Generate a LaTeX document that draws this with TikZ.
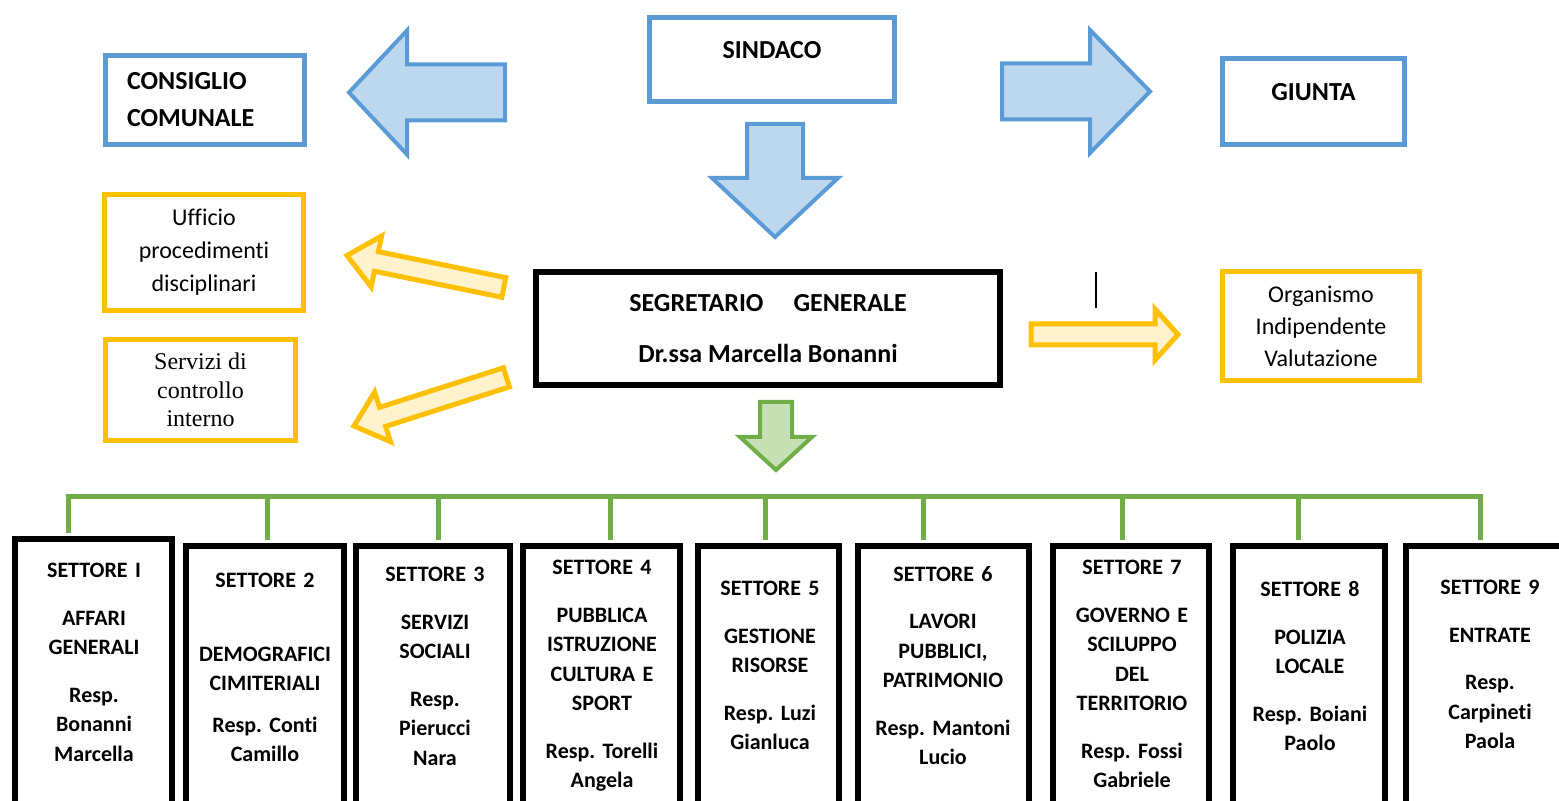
\documentclass[tikz,border=0pt]{standalone}
\usepackage{fontspec}
\setmainfont{Carlito}[Ligatures=NoCommon]
\newfontfamily\timesfont{Liberation Serif}
\usepackage{tikz}
\frenchspacing
\definecolor{offblue}{HTML}{5B9BD5}
\definecolor{lightblue}{HTML}{BDD7EE}
\definecolor{offgold}{HTML}{FFC000}
\definecolor{lightgold}{HTML}{FFF2CC}
\definecolor{offgreen}{HTML}{70AD47}
\definecolor{lightgreen}{HTML}{C5E0B4}
\tikzstyle{organo}=[rectangle, draw=offblue, line width=2.5pt, inner sep=0pt, font=\fontsize{13}{15}\selectfont\bfseries]
\tikzstyle{staff}=[rectangle, draw=offgold, line width=2.5pt, inner sep=0pt, align=center, font=\fontsize{12}{16.5}\selectfont]
\tikzstyle{segretario}=[rectangle, draw=black, line width=3pt, inner sep=0pt, align=center, font=\fontsize{13}{25.5}\selectfont\bfseries]
\tikzstyle{settore}=[rectangle, draw=black, line width=3pt, anchor=north, minimum height=145pt]
\tikzstyle{settext}=[anchor=north, inner sep=0pt, text width=84pt, align=center, font=\fontsize{11}{14.75}\selectfont\bfseries]
\tikzstyle{bluearrow}=[draw=offblue, fill=lightblue, line width=2pt]
\tikzstyle{goldarrow}=[draw=offgold, fill=lightgold, line width=2.5pt]
\tikzstyle{greenarrow}=[draw=offgreen, fill=lightgreen, line width=2pt]
\tikzstyle{bus}=[draw=offgreen, line width=2.5pt, shorten >=1.5pt]
% block arrow: style, tip, angle, length, shaft half width, head half width, head length
\newcommand{\blockarrow}[7]{%
  \begin{scope}[shift={(#2)}, rotate=#3]
    \path[#1] (0,0) -- (-#7,#6) -- (-#7,#5) -- (-#4,#5) -- (-#4,-#5) -- (-#7,-#5) -- (-#7,-#6) -- cycle;
  \end{scope}}

\begin{document}
\begin{tikzpicture}[x=0.5pt, y=-0.5pt]
                    \useasboundingbox (0,0) rectangle (1559,801);
                    \clip (0,0) rectangle (1559,801);
                    % organi di governo
                    \node[organo, minimum width=122.5pt, minimum height=42pt, text depth=9.5pt] (sindaco) at (772,59.5) {SINDACO};
                    \node[organo, minimum width=99.5pt, minimum height=44.5pt, inner xsep=10.75pt, text width=78pt, align=left, font=\fontsize{13}{18.5}\selectfont\bfseries] (consiglio) at (205,100) {CONSIGLIO\\COMUNALE};
                    \node[organo, minimum width=91pt, minimum height=43pt, text depth=9.5pt] (giunta) at (1313.5,101.5) {GIUNTA};
                    \blockarrow{bluearrow}{349,92.5}{180}{156}{28}{62}{58}
                    \blockarrow{bluearrow}{1150,91.5}{0}{148}{28}{61.5}{60}
                    \blockarrow{bluearrow}{775,237}{-90}{113}{28}{63}{59}
                    % segretario e uffici di staff
                    \node[segretario, minimum width=232pt, minimum height=56.5pt] (segretario) at (768,328.5) {SEGRETARIO\hspace{15pt}GENERALE\\Dr.ssa Marcella Bonanni};
                    \node[staff, minimum width=99.5pt, minimum height=58pt] (ufficio) at (204,252.5) {Ufficio\\procedimenti\\disciplinari};
                    \node[staff, minimum width=95pt, minimum height=50.5pt, font=\timesfont\fontsize{12}{14.3}\selectfont] (servizi) at (200.5,390) {Servizi di\\controllo\\interno};
                    \node[staff, minimum width=98.5pt, minimum height=54.5pt, font=\fontsize{12}{16}\selectfont] (oiv) at (1321,326) {Organismo\\Indipendente\\Valutazione};
                    \blockarrow{goldarrow}{347,255.5}{168.5}{160}{10}{26}{30}
                    \blockarrow{goldarrow}{354,426}{197.7}{160}{10}{26}{30}
                    \blockarrow{goldarrow}{1178,334.5}{0}{147}{10.5}{25.5}{23}
                    \draw[line width=0.75pt] (1096,272) -- (1096,308);
                    \blockarrow{greenarrow}{776,470}{-90}{68}{16}{36}{33}
                    % settori
                    \node[settore, minimum width=78.5pt] (s1) at (93.5,536) {};
                    \node[settore, minimum width=79pt]   (s2) at (265,543) {};
                    \node[settore, minimum width=77pt]   (s3) at (433,543) {};
                    \node[settore, minimum width=78.5pt] (s4) at (601.5,543) {};
                    \node[settore, minimum width=70.5pt] (s5) at (768.5,543) {};
                    \node[settore, minimum width=85.5pt] (s6) at (943.5,543) {};
                    \node[settore, minimum width=78pt]   (s7) at (1131,543) {};
                    \node[settore, minimum width=76pt]   (s8) at (1309,543) {};
                    \node[settore, minimum width=84pt]   (s9) at (1490,543) {};
                    \node[settext] (t1) at (94,563)   {SETTORE I\\[9pt]AFFARI\\GENERALI\\[9pt]Resp.\\Bonanni\\Marcella};
                    \node[settext] (t2) at (265,573)  {SETTORE 2\\[22pt]DEMOGRAFICI\\CIMITERIALI\\[6pt]Resp. Conti\\Camillo};
                    \node[settext] (t3) at (435,567)  {SETTORE 3\\[9pt]SERVIZI\\SOCIALI\\[9pt]Resp.\\Pierucci\\Nara};
                    \node[settext] (t4) at (602,560)  {SETTORE 4\\[9pt]PUBBLICA\\ISTRUZIONE\\CULTURA E\\SPORT\\[9pt]Resp. Torelli\\Angela};
                    \node[settext] (t5) at (770,581)  {SETTORE 5\\[9pt]GESTIONE\\RISORSE\\[9pt]Resp. Luzi\\Gianluca};
                    \node[settext] (t6) at (943,566)  {SETTORE 6\\[9pt]LAVORI\\PUBBLICI,\\PATRIMONIO\\[9pt]Resp. Mantoni\\Lucio};
                    \node[settext] (t7) at (1132,560) {SETTORE 7\\[9pt]GOVERNO E\\SCILUPPO\\DEL\\TERRITORIO\\[9pt]Resp. Fossi\\Gabriele};
                    \node[settext] (t8) at (1310,581) {SETTORE 8\\[9pt]POLIZIA\\LOCALE\\[9pt]Resp. Boiani\\Paolo};
                    \node[settext] (t9) at (1490,580) {SETTORE 9\\[9pt]ENTRATE\\[9pt]Resp.\\Carpineti\\Paola};
                    % linea verde
                    \coordinate (b1) at (68,497);
                    \coordinate (b2) at (267,497);
                    \coordinate (b3) at (438,497);
                    \coordinate (b4) at (610,497);
                    \coordinate (b5) at (765,497);
                    \coordinate (b6) at (923,497);
                    \coordinate (b7) at (1122,497);
                    \coordinate (b8) at (1298,497);
                    \coordinate (b9) at (1480,497);
                    \draw[bus, shorten <=1.5pt] (b1 |- s1.north) -- (b1) -- (b9) -- (b9 |- s9.north);
                    \draw[bus] (b2) -- (b2 |- s2.north);
                    \draw[bus] (b3) -- (b3 |- s3.north);
                    \draw[bus] (b4) -- (b4 |- s4.north);
                    \draw[bus] (b5) -- (b5 |- s5.north);
                    \draw[bus] (b6) -- (b6 |- s6.north);
                    \draw[bus] (b7) -- (b7 |- s7.north);
                    \draw[bus] (b8) -- (b8 |- s8.north);
                \end{tikzpicture}
\end{document}
